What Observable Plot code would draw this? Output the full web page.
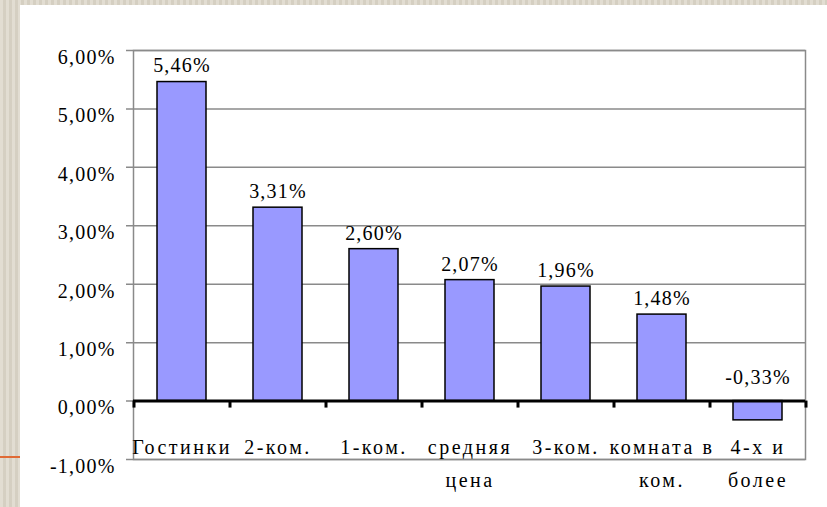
<!DOCTYPE html>
<html><head><meta charset="utf-8">
<script src="https://cdn.jsdelivr.net/npm/d3@7"></script>
<script src="https://cdn.jsdelivr.net/npm/@observablehq/plot@0.6"></script>
<style>
html,body{margin:0;padding:0;}
body{background:#DCD6C8;
 background-image:repeating-linear-gradient(90deg,rgba(255,255,255,0.18) 0 3px,rgba(0,0,0,0.03) 3px 6px);}
#wrap{position:relative;width:827px;height:507px;overflow:hidden;}
#panel{position:absolute;left:20px;top:5px;width:807px;height:502px;background:#fff;}
#accent{position:absolute;left:0;top:456px;width:20px;height:2px;background:#E06A35;}
#chart{position:absolute;left:0;top:0;}
</style></head><body>
<div id="wrap"><div id="panel"></div><div id="accent"></div><div id="chart"></div></div>
<script>
const categories = ["Гостинки", "2-ком.", "1-ком.", "средняя цена", "3-ком.", "комната в ком.", "4-х и более"];
const categoryLabels = ["Гостинки", "2-ком.", "1-ком.", "средняя\nцена", "3-ком.", "комната в\nком.", "4-х и\nболее"];
const values = [5.46, 3.31, 2.60, 2.07, 1.96, 1.48, -0.33];
const yTicks = [-1, 0, 1, 2, 3, 4, 5, 6];

const data = categories.map((c, i) => ({category: c, label: categoryLabels[i], value: values[i]}));
const fmt = v => v.toFixed(2).replace(".", ",") + "%";
const labelOf = c => categoryLabels[categories.indexOf(c)];
const FONT = "Liberation Serif";

const chart = Plot.plot({
  width: 827,
  height: 507,
  marginLeft: 133,
  marginRight: 22,
  marginTop: 50,
  marginBottom: 48,
  style: {background: "transparent", fontFamily: FONT, fontSize: "20px", color: "black"},
  x: {domain: categories, paddingInner: 0.49, paddingOuter: 0.245},
  y: {domain: [-1, 6]},
  marks: [
    Plot.ruleY(yTicks, {stroke: "#8a8a8a", strokeWidth: 1.5, insetLeft: -7}),
    Plot.frame({stroke: "#8a8a8a", strokeWidth: 1.5}),
    Plot.axisY({ticks: yTicks, tickFormat: fmt, tickSize: 0, tickPadding: 18, dy: 7, label: null, fontSize: 20, fontFamily: FONT, fill: "black"}),
    Plot.axisX({tickFormat: labelOf, tickSize: 0, tickPadding: -29, label: null, fontSize: 20, fontFamily: FONT, lineHeight: 1.65, fill: "black"}),
    Plot.barY(data, {x: "category", y: "value", fill: "#9999FF", stroke: "black", strokeWidth: 1.5}),
    Plot.ruleY([0], {stroke: "black", strokeWidth: 3}),
    Plot.ruleX(data, {x: "category", y1: 0, y2: 0, dx: -48, insetBottom: -7, stroke: "black", strokeWidth: 3}),
    Plot.ruleX(data.slice(-1), {x: "category", y1: 0, y2: 0, dx: 48, insetBottom: -7, stroke: "black", strokeWidth: 3}),
    Plot.text(data.filter(d => d.value >= 0), {x: "category", y: "value", text: d => fmt(d.value), dy: -16, fill: "black", fontSize: 20, fontFamily: FONT}),
    Plot.text(data.filter(d => d.value < 0), {x: "category", y: () => 0, text: d => fmt(d.value), dy: -23, fill: "black", fontSize: 20, fontFamily: FONT})
  ]
});
const sel = d3.select(chart);
sel.selectAll('g[aria-label="x-axis tick label"] text').style("letter-spacing", "2.5px");
sel.selectAll('g[aria-label="y-axis tick label"] text, g[aria-label="text"] text').style("letter-spacing", "1.2px");
document.getElementById("chart").appendChild(chart);
</script>
</body></html>
